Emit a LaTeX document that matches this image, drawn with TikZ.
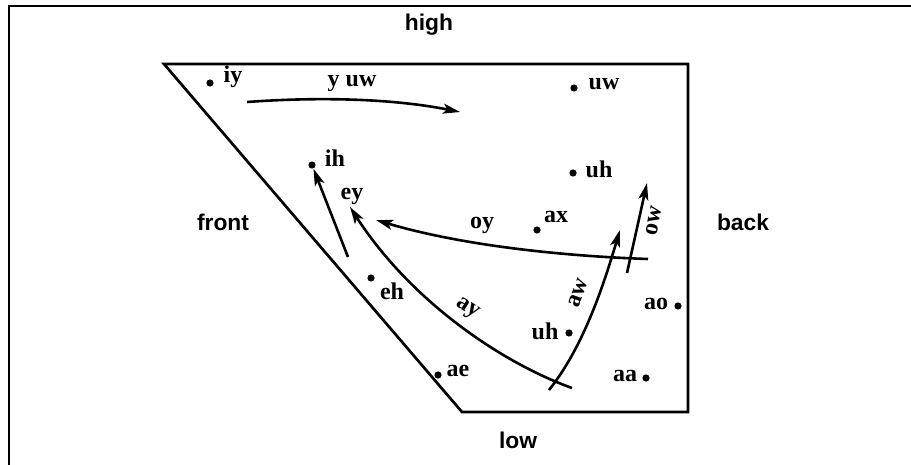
\documentclass[tikz,border=0pt]{standalone}
\usepackage{fontspec}
\setmainfont{Liberation Serif}
\setsansfont{Liberation Sans}
\usetikzlibrary{arrows.meta}

\tikzset{
  dot/.style={circle,fill=black,inner sep=0pt,minimum size=3.6pt},
  vlab/.style={font=\fontsize{12}{14}\selectfont\bfseries,inner sep=0pt},
  side/.style={font=\fontsize{11.4}{13}\sffamily\bfseries,inner sep=0pt},
  glide/.style={line width=1.3pt,-{Stealth[length=8.5pt,width=5pt,inset=2pt]}}
}

\begin{document}
\begin{tikzpicture}[x=0.5pt,y=-0.5pt]
\useasboundingbox (0,0) rectangle (911,465);
\draw[line width=1pt] (9,465) -- (9,6) -- (911,6);
\draw[line width=1.35pt] (164,64) -- (688,64) -- (688,412) -- (462,412) -- cycle;
% side labels
\node[side] (high) at (429,25) {high};
\node[side] (front) at (223,222) {front};
\node[side] (back) at (743,222) {back};
\node[side] (low) at (518,440) {low};
% vowels
\foreach \n/\x/\y in {iy/210/83,uw/574/88,uhh/573/173,ih/312/165,ax/537/230,eh/371/278,ae/438/375,uhl/569/333,ao/678/306,aa/646/378}{
  \node[dot] (\n) at (\x,\y) {};}
\foreach \n/\t/\x/\y in {iy/iy/233/77,uw/uw/604/84,uhh/uh/599/169,ih/ih/335/158,ax/ax/556/217,eh/eh/392/291,ae/ae/458/371,uhl/uh/545/331,ao/ao/656/304,aa/aa/625/376}{
  \node[vlab] (l-\n) at (\x,\y) {\t};}
% diphthongs
\coordinate (yuw0) at (247,102); \coordinate (yuw1) at (460,112);
\coordinate (ih0) at (348,257);
\coordinate (ay0) at (572,388); \coordinate (ay1) at (350,207);
\coordinate (oy0) at (648,259); \coordinate (oy1) at (376,220);
\coordinate (aw0) at (549,390); \coordinate (aw1) at (620,230);
\coordinate (ow0) at (627,273); \coordinate (ow1) at (647,183);
\draw[glide] (yuw0) .. controls (330,96) and (400,100) .. (yuw1);
\draw[glide] (ih0) -- (ih);
\draw[glide] (ay0) .. controls (500,362) and (410,300) .. (ay1);
\draw[glide] (oy0) .. controls (560,256) and (460,245) .. (oy1);
\draw[glide] (aw0) .. controls (585,345) and (605,280) .. (aw1);
\draw[glide] (ow0) -- (ow1);
\node[vlab] (l-yuw) at (352,84) {y uw};
\node[vlab] (l-ey) at (352,196) {ey};
\node[vlab] (l-oy) at (482,225) {oy};
\node[vlab,rotate=-33] (l-ay) at (467,309) {ay};
\node[vlab,rotate=70] (l-aw) at (578,293) {aw};
\node[vlab,rotate=78] (l-ow) at (654,221) {ow};
\end{tikzpicture}
\end{document}
